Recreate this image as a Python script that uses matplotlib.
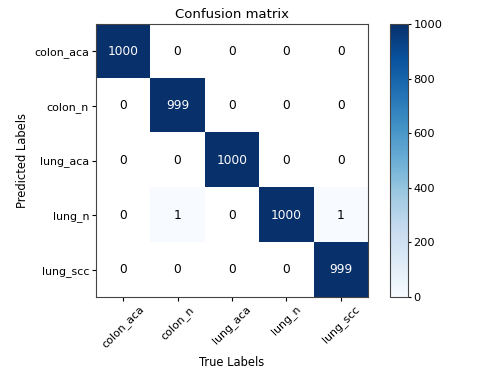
import numpy as np
import matplotlib
matplotlib.use("Agg")
import matplotlib.pyplot as plt

classes = ["colon_aca", "colon_n", "lung_aca", "lung_n", "lung_scc"]
row_colon_aca = [1000, 0, 0, 0, 0]
row_colon_n = [0, 999, 0, 0, 0]
row_lung_aca = [0, 0, 1000, 0, 0]
row_lung_n = [0, 1, 0, 1000, 1]
row_lung_scc = [0, 0, 0, 0, 999]

cm = np.array([row_colon_aca, row_colon_n, row_lung_aca, row_lung_n, row_lung_scc])

fig = plt.figure(figsize=(4.8, 3.74), dpi=100)
ax = fig.add_axes([96/480, 1-297/374, 272/480, 273/374])
cax = fig.add_axes([390/480, 1-297/374, 18/480, 273/374])

cmap = plt.get_cmap("Blues").copy()
cmap.set_bad("white")
masked = np.ma.masked_equal(cm, 0)
im = ax.imshow(masked, cmap=cmap, vmin=0, vmax=1000, aspect="auto")
cb = fig.colorbar(im, cax=cax)
cb.set_ticks([0, 200, 400, 600, 800, 1000])
cb.ax.tick_params(labelsize=8.2, length=2.5, pad=1.5)
cb.outline.set_edgecolor("#444444")

for s in ax.spines.values():
    s.set_edgecolor("#444444")

ax.set_title("Confusion matrix", fontsize=9.5, pad=4)
ax.set_xticks(range(len(classes)))
ax.set_xticklabels(classes, rotation=45, fontsize=7.9, ha="center")
ax.set_yticks(range(len(classes)))
ax.set_yticklabels(classes, fontsize=7.9)
ax.tick_params(length=3, pad=2)
ax.set_xlabel("True Labels", fontsize=8.3, labelpad=4)
ax.set_ylabel("Predicted Labels", fontsize=8.3, labelpad=4)

thresh = cm.max() / 2
for i in range(cm.shape[0]):
    for j in range(cm.shape[1]):
        ax.text(j, i, str(cm[i, j]), ha="center", va="center", fontsize=8.8,
                color="white" if cm[i, j] > thresh else "black")

fig.savefig("out.png", dpi=100)
